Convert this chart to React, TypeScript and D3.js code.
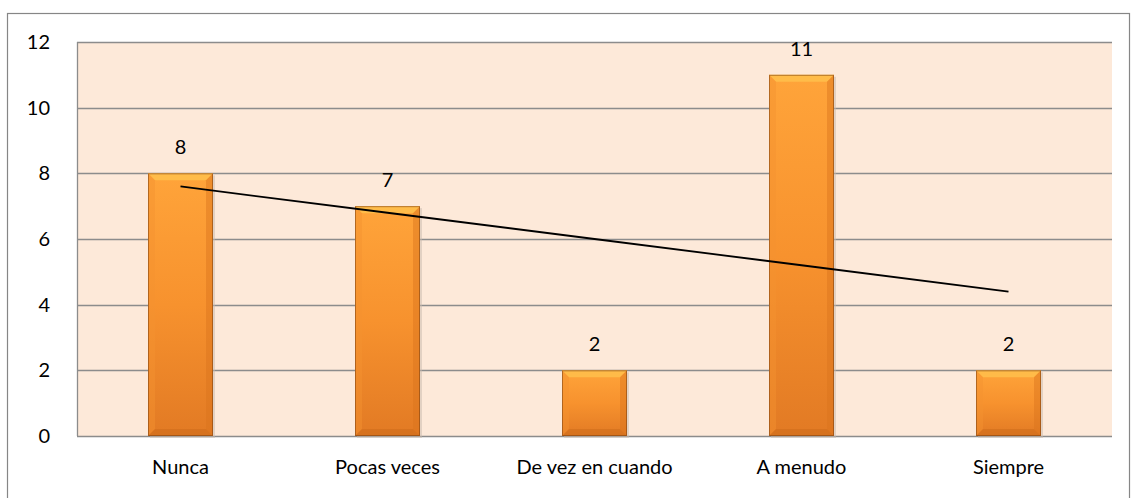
import React, { useEffect, useRef } from "react";
import * as d3 from "d3";

const categories = ["Nunca", "Pocas veces", "De vez en cuando", "A menudo", "Siempre"];
const values = [8, 7, 2, 11, 2];
const yTicks = [0, 2, 4, 6, 8, 10, 12];

const W = 1131;
const H = 498;
const FONT = "Lato, 'Open Sans', sans-serif";

const App = () => {
  const ref = useRef<SVGSVGElement>(null);

  useEffect(() => {
    const svg = d3.select(ref.current);
    svg.selectAll("*").remove();

    const left = 77, right = 1112, top = 42, bottom = 436;

    const x = d3.scaleBand().domain(categories).range([left, right]).paddingInner(0).paddingOuter(0);
    const y = d3.scaleLinear().domain([0, 12]).range([bottom, top]);

    const defs = svg.append("defs");
    const grad = defs.append("linearGradient").attr("id", "barGrad").attr("x1", 0).attr("y1", 0).attr("x2", 0).attr("y2", 1);
    grad.append("stop").attr("offset", "0%").attr("stop-color", "#ffa43a");
    grad.append("stop").attr("offset", "50%").attr("stop-color", "#f7922e");
    grad.append("stop").attr("offset", "100%").attr("stop-color", "#e27a24");

    // outer frame
    svg.append("rect")
      .attr("x", 7.5).attr("y", 13.5).attr("width", 1122).attr("height", 500)
      .attr("fill", "white").attr("stroke", "#868686").attr("stroke-width", 1.2);

    // plot area
    svg.append("rect")
      .attr("x", left).attr("y", top).attr("width", right - left).attr("height", bottom - top)
      .attr("fill", "#fde9d9");

    // gridlines
    svg.append("g").selectAll("line").data(yTicks).join("line")
      .attr("x1", left).attr("x2", right)
      .attr("y1", (d) => Math.round(y(d)) + 0.5).attr("y2", (d) => Math.round(y(d)) + 0.5)
      .attr("stroke", "#8c8c8c").attr("stroke-width", 1.3);

    // left axis line
    svg.append("line")
      .attr("x1", left + 0.5).attr("x2", left + 0.5).attr("y1", top).attr("y2", bottom)
      .attr("stroke", "#8c8c8c").attr("stroke-width", 1.3);

    // y labels
    svg.append("g").selectAll("text").data(yTicks).join("text")
      .attr("x", 50).attr("y", (d) => y(d)).attr("dy", "0.35em")
      .attr("text-anchor", "end").attr("font-family", FONT).attr("font-size", 20).attr("fill", "#000")
      .text((d) => d);

    // bars
    const bw = 65;
    const bars = svg.append("g").selectAll("g").data(values).join("g")
      .attr("transform", (d, i) => `translate(${x(categories[i])! + x.bandwidth() / 2 - bw / 2},${y(d)})`);

    bars.append("rect")
      .attr("x", 2).attr("y", 2).attr("width", bw).attr("height", (d) => bottom - y(d))
      .attr("fill", "#c8b9ad").attr("opacity", 0.5);
    bars.append("rect")
      .attr("width", bw).attr("height", (d) => bottom - y(d))
      .attr("fill", "url(#barGrad)");
    const bev = 7;
    // top bevel highlight
    bars.append("polygon")
      .attr("points", `0,0 ${bw},0 ${bw - bev},${bev} ${bev},${bev}`)
      .attr("fill", "#ffc24e").attr("opacity", 0.8);
    // left bevel
    bars.append("polygon")
      .attr("points", (d) => { const h = bottom - y(d); return `0,0 ${bev},${bev} ${bev},${h - bev} 0,${h}`; })
      .attr("fill", "#f39230").attr("opacity", 0.45);
    // right bevel
    bars.append("polygon")
      .attr("points", (d) => { const h = bottom - y(d); return `${bw},0 ${bw - bev},${bev} ${bw - bev},${h - bev} ${bw},${h}`; })
      .attr("fill", "#d9731c").attr("opacity", 0.45);
    // bottom bevel
    bars.append("polygon")
      .attr("points", (d) => { const h = bottom - y(d); return `0,${h} ${bev},${h - bev} ${bw - bev},${h - bev} ${bw},${h}`; })
      .attr("fill", "#c86818").attr("opacity", 0.45);
    bars.append("rect")
      .attr("x", 0.5).attr("y", 0.5).attr("width", bw - 1).attr("height", (d) => bottom - y(d) - 1)
      .attr("fill", "none").attr("stroke", "#7a4010").attr("stroke-width", 1).attr("opacity", 0.55);

    // value labels
    svg.append("g").selectAll("text").data(values).join("text")
      .attr("x", (d, i) => x(categories[i])! + x.bandwidth() / 2)
      .attr("y", (d) => y(d) - 19)
      .attr("text-anchor", "middle").attr("font-family", FONT).attr("font-size", 20).attr("fill", "#000")
      .text((d) => d);

    // linear trendline
    const xs = values.map((_, i) => i + 1);
    const mx = d3.mean(xs)!, my = d3.mean(values)!;
    const slope = d3.sum(xs, (xi, i) => (xi - mx) * (values[i] - my)) / d3.sum(xs, (xi) => (xi - mx) ** 2);
    const icpt = my - slope * mx;
    const trend = xs.map((xi) => slope * xi + icpt);
    const line = d3.line<number>()
      .x((d, i) => x(categories[i])! + x.bandwidth() / 2)
      .y((d) => y(d));
    svg.append("path").datum(trend).attr("d", line).attr("fill", "none").attr("stroke", "#000").attr("stroke-width", 1.8);

    // x labels
    svg.append("g").selectAll("text").data(categories).join("text")
      .attr("x", (d) => x(d)! + x.bandwidth() / 2).attr("y", 467).attr("dy", "0.35em")
      .attr("text-anchor", "middle").attr("font-family", FONT).attr("font-size", 20).attr("fill", "#000")
      .text((d) => d);
  }, []);

  return (
    <svg ref={ref} width={W} height={H} style={{ position: "absolute", left: 0, top: 0 }} />
  );
};

export default App;
